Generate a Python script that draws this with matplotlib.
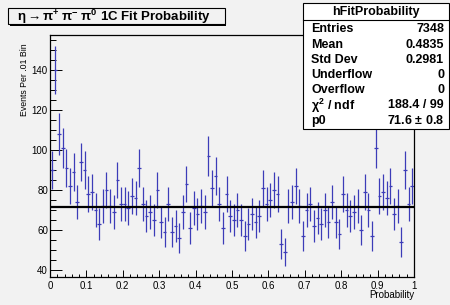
import numpy as np
import matplotlib
matplotlib.use("agg")
import matplotlib.pyplot as plt
from matplotlib.patches import Rectangle
from matplotlib.lines import Line2D
from matplotlib.ticker import MultipleLocator, FuncFormatter

# Histogram contents, 100 bins of width .01 on [0, 1]
counts = [90, 140, 108, 101, 91, 82, 89, 74, 94, 90,
          78, 79, 70, 63, 72, 80, 72, 69, 85, 73,
          73, 71, 77, 76, 91, 73, 67, 69, 65, 80,
          64, 59, 73, 59, 62, 56, 69, 83, 61, 71,
          68, 72, 69, 97, 81, 87, 73, 61, 78, 67,
          65, 70, 65, 57, 63, 68, 64, 67, 81, 73,
          75, 80, 78, 53, 49, 72, 74, 82, 72, 57,
          70, 73, 62, 66, 63, 70, 64, 74, 64, 58,
          78, 70, 67, 69, 72, 60, 79, 70, 57, 101,
          77, 79, 76, 82, 68, 72, 54, 90, 73, 82]
bin_width = 0.01
fit_p0 = 71.6

stat_labels = ['Entries', 'Mean', 'Std Dev', 'Underflow', 'Overflow',
               r'$\chi^{2}$ / ndf', 'p0']
stat_values = ['7348', '0.4835', '0.2981', '0', '0', '188.4 / 99',
               '71.6 $\\pm$ 0.8']

W, H = 450, 305
bg = '#f2f2f2'
blue = '#3c3cb8'


def fx(x):
    return x / W


def fy(y):
    return 1 - y / H


plt.rcParams['font.family'] = ['Liberation Sans', 'DejaVu Sans']
plt.rcParams['mathtext.fontset'] = 'stix'
plt.rcParams['mathtext.default'] = 'regular'

fig = plt.figure(figsize=(W / 100, H / 100), dpi=100, facecolor=bg)
ax = fig.add_axes([fx(50), fy(277), (414 - 50) / W, (277 - 35) / H])
ax.set_facecolor(bg)

counts = np.array(counts, dtype=float)
centers = (np.arange(len(counts)) + 0.5) * bin_width
ax.errorbar(centers, counts, yerr=np.sqrt(counts), xerr=bin_width / 2,
            fmt='none', ecolor=blue, elinewidth=0.9, capsize=0)
ax.plot([0, 1], [fit_p0, fit_p0], color='black', lw=1.6)

ax.set_xlim(0, 1)
ax.set_ylim(36.5, 157.5)
ax.xaxis.set_major_locator(MultipleLocator(0.1))
ax.xaxis.set_minor_locator(MultipleLocator(0.02))
ax.yaxis.set_major_locator(MultipleLocator(20))
ax.yaxis.set_minor_locator(MultipleLocator(5))
ax.xaxis.set_major_formatter(FuncFormatter(lambda v, p: '%g' % round(v, 2)))
ax.tick_params(which='both', direction='in', top=False, right=False,
               width=0.7, labelsize=7)
ax.tick_params(axis='y', which='major', length=8.5, pad=1.5)
ax.tick_params(axis='y', which='minor', length=4.3)
ax.tick_params(axis='x', which='major', length=5, pad=3)
ax.tick_params(axis='x', which='minor', length=2.5)
for s in ax.spines.values():
    s.set_linewidth(0.9)

fig.text(fx(414), fy(295), 'Probability', ha='right', va='center', fontsize=7)
fig.text(fx(25), fy(80), 'Events Per .01 Bin', ha='center', va='center',
         rotation=90, fontsize=6.3)

# title box with shadow
fig.add_artist(Rectangle((fx(9.5), fy(25.5)), (225 - 8) / W, 16 / H,
                         transform=fig.transFigure, facecolor='black',
                         edgecolor='none'))
fig.add_artist(Rectangle((fx(8), fy(24)), (225 - 8) / W, 16 / H,
                         transform=fig.transFigure, facecolor=bg,
                         edgecolor='black', lw=0.8))
fig.text(fx(17), fy(16.5),
         r'$\eta \rightarrow \pi^{+}\ \pi^{-}\ \pi^{0}$ 1C Fit Probability',
         ha='left', va='center', fontsize=9.5, fontweight='bold')

# stats box
fig.add_artist(Rectangle((fx(303), fy(129)), (449 - 303) / W, (129 - 3) / H,
                         transform=fig.transFigure, facecolor='white',
                         edgecolor='black', lw=0.8))
fig.add_artist(Line2D([fx(303), fx(449)], [fy(20), fy(20)],
                      transform=fig.transFigure, color='black', lw=0.8))
fig.text(fx(376), fy(12), 'hFitProbability', ha='center', va='center',
         fontsize=9, fontweight='bold')
for k, (lab, val) in enumerate(zip(stat_labels, stat_values)):
    yy = 29.5 + k * 15.2
    fig.text(fx(311), fy(yy), lab, ha='left', va='center', fontsize=9,
             fontweight='bold')
    fig.text(fx(444), fy(yy), val, ha='right', va='center', fontsize=9,
             fontweight='bold')

fig.savefig('out.png', dpi=100, facecolor=bg)
